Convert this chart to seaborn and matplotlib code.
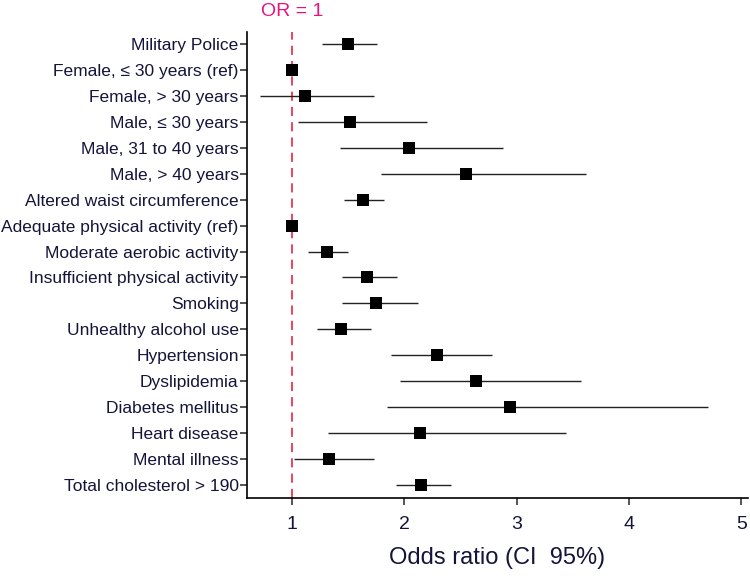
import pandas as pd
import numpy as np
import seaborn as sns
import matplotlib.pyplot as plt

# Data
labels = [
    "Military Police",
    "Female, \u2264 30 years (ref)",
    "Female, > 30 years",
    "Male, \u2264 30 years",
    "Male, 31 to 40 years",
    "Male, > 40 years",
    "Altered waist circumference",
    "Adequate physical activity (ref)",
    "Moderate aerobic activity",
    "Insufficient physical activity",
    "Smoking",
    "Unhealthy alcohol use",
    "Hypertension",
    "Dyslipidemia",
    "Diabetes mellitus",
    "Heart disease",
    "Mental illness",
    "Total cholesterol > 190",
]
odds_ratio = [1.50, 1.00, 1.12, 1.52, 2.04, 2.55, 1.63, 1.00, 1.31, 1.67,
              1.75, 1.44, 2.29, 2.64, 2.94, 2.14, 1.33, 2.15]
ci_low = [1.27, np.nan, 0.72, 1.05, 1.43, 1.79, 1.46, np.nan, 1.14, 1.45,
          1.45, 1.22, 1.88, 1.96, 1.85, 1.32, 1.02, 1.93]
ci_high = [1.76, np.nan, 1.73, 2.20, 2.88, 3.62, 1.82, np.nan, 1.50, 1.94,
           2.12, 1.70, 2.78, 3.57, 4.70, 3.44, 1.73, 2.42]
x_ticks = [1, 2, 3, 4, 5]

df = pd.DataFrame({
    "label": labels,
    "OR": odds_ratio,
    "low": ci_low,
    "high": ci_high,
})

sns.set_style("ticks")
plt.rcParams['font.family'] = ['Liberation Sans', 'DejaVu Sans']

text_col = "#14143a"

fig = plt.figure(figsize=(7.5, 5.78), dpi=100)
ax = fig.add_axes([0.3293, 0.1384, 0.668, 0.8062])

# Point estimates (drawn first so the category order follows the list)
sns.scatterplot(
    data=df,
    x="OR",
    y="label",
    marker="s",
    s=78,
    color="black",
    edgecolor="black",
    linewidth=0,
    ax=ax,
    zorder=3,
    legend=False
)

# Confidence intervals
ci = df.dropna()
ax.hlines(y=ci["label"], xmin=ci["low"], xmax=ci["high"],
          color="#222222", linewidth=1.0, zorder=2)

# Reference line
ax.axvline(1, color="#e3142c", linestyle=(0, (6, 4)), linewidth=1.1, zorder=1)

ax.set_xlim(0.6, 5.06)
ax.set_ylim(17.5, -0.46)
ax.set_xticks(x_ticks)

ax.set_xlabel("Odds ratio (CI  95%)", fontsize=17, color=text_col, labelpad=10)
ax.set_ylabel("")
ax.tick_params(axis="x", labelsize=14, labelcolor=text_col, length=5, width=1.1, pad=8)
ax.tick_params(axis="y", labelsize=12.5, labelcolor=text_col, length=5, width=1.1, pad=1)

sns.despine(ax=ax)
for side in ["left", "bottom"]:
    ax.spines[side].set_linewidth(1.2)
    ax.spines[side].set_color("black")

fig.text(292 / 750, 1 - 12 / 578, "OR = 1", ha="center", va="center",
         fontsize=14, color="#e8147c")

plt.savefig("out.png", dpi=100)
